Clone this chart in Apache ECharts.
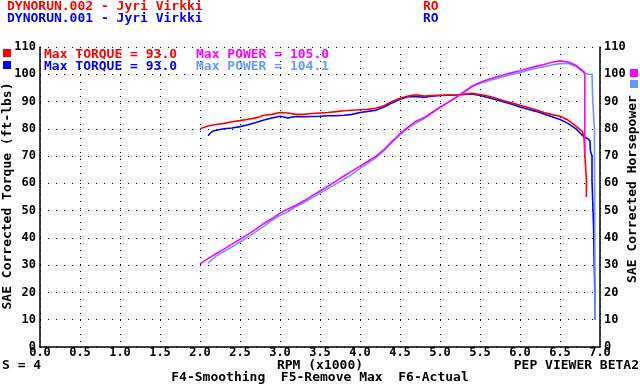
<!DOCTYPE html>
<html><head><meta charset="utf-8">
<script src="https://cdn.jsdelivr.net/npm/echarts@6/dist/echarts.min.js"></script>
<style>html,body{margin:0;padding:0;background:#fff}#c{width:640px;height:387px}</style>
</head><body><div id="c"></div>
<script>
// Run 002 (red torque, magenta power)
const rpm002 = [2.0,2.1,2.2,2.3,2.4,2.5,2.6,2.7,2.8,2.9,3.0,3.1,3.2,3.3,3.4,3.5,3.6,3.7,3.8,3.9,4.0,4.1,4.2,4.3,4.4,4.5,4.6,4.7,4.8,4.9,5.0,5.1,5.2,5.3,5.4,5.5,5.6,5.7,5.8,5.9,6.0,6.1,6.2,6.3,6.4,6.5,6.6,6.7,6.78,6.8,6.81,6.81,6.83,6.83];
const torque002 = [80.0,81.0,81.6,82.0,82.6,83.0,83.5,84.0,85.0,85.3,86.0,85.8,85.3,85.3,85.6,85.8,86.0,86.3,86.6,86.8,87.0,87.2,87.5,88.5,90.0,91.2,92.0,92.5,92.0,92.2,92.3,92.4,92.4,92.7,93.0,92.6,92.0,91.2,90.3,89.5,88.6,87.8,87.0,86.0,85.2,84.6,83.2,81.0,79.0,77.0,77.0,71.0,61.0,55.0];
const rpm002p = [2.0,2.1,2.2,2.3,2.4,2.5,2.6,2.7,2.8,2.9,3.0,3.1,3.2,3.3,3.4,3.5,3.6,3.7,3.8,3.9,4.0,4.1,4.2,4.3,4.4,4.5,4.6,4.7,4.8,4.9,5.0,5.1,5.2,5.3,5.4,5.5,5.6,5.7,5.8,5.9,6.0,6.1,6.2,6.3,6.4,6.5,6.6,6.7,6.8,6.81,6.81];
const power002 = [30.5,32.4,34.2,35.9,37.7,39.5,41.3,43.2,45.3,47.1,49.1,50.6,52.0,53.6,55.4,57.2,59.0,60.8,62.7,64.5,66.3,68.1,70.0,72.4,75.4,78.2,80.6,82.8,84.1,86.0,87.9,89.7,91.5,93.5,95.6,97.0,98.1,99.0,99.8,100.6,101.3,102.1,102.9,103.6,104.4,104.9,104.5,103.3,101.0,99.5,71.0];
// Run 001 (blue torque, light blue power)
const rpm001 = [2.1,2.15,2.2,2.3,2.4,2.5,2.6,2.7,2.8,2.9,3.0,3.1,3.2,3.3,3.4,3.5,3.6,3.7,3.8,3.9,4.0,4.1,4.2,4.3,4.4,4.5,4.6,4.7,4.8,4.9,5.0,5.1,5.2,5.3,5.4,5.5,5.6,5.7,5.8,5.9,6.0,6.1,6.2,6.3,6.4,6.5,6.6,6.7,6.8,6.85,6.875,6.88,6.9,6.9,6.92,6.92,6.925,6.94,6.94];
const torque001 = [77.5,79.0,79.5,80.0,80.3,80.8,81.5,82.3,83.2,84.0,84.6,84.0,84.5,84.4,84.5,84.6,84.8,84.8,85.0,85.3,86.0,86.4,86.8,88.0,89.5,90.8,91.8,91.8,91.6,92.0,92.2,92.3,92.4,92.6,92.8,92.2,91.5,90.7,89.8,89.0,88.0,87.2,86.4,85.4,84.4,83.4,82.0,80.0,77.0,76.4,75.5,72.0,70.0,61.0,61.0,44.0,34.0,14.0,10.0];
const rpm001p = [2.1,2.2,2.3,2.4,2.5,2.6,2.7,2.8,2.9,3.0,3.1,3.2,3.3,3.4,3.5,3.6,3.7,3.8,3.9,4.0,4.1,4.2,4.3,4.4,4.5,4.6,4.7,4.8,4.9,5.0,5.1,5.2,5.3,5.4,5.5,5.6,5.7,5.8,5.9,6.0,6.1,6.2,6.3,6.4,6.5,6.6,6.7,6.8,6.85,6.9,6.91,6.93,6.94];
const power001 = [30.7,33.3,35.0,36.7,38.5,40.4,42.3,44.3,46.4,48.3,49.6,51.5,53.0,54.7,56.4,58.1,59.8,61.5,63.3,65.5,67.4,69.4,72.0,75.0,77.8,80.4,82.1,83.7,85.8,87.8,89.6,91.5,93.5,95.4,96.6,97.5,98.4,99.2,100.0,100.6,101.5,102.2,102.8,103.4,103.9,104.0,102.8,100.6,100.0,100.0,90.0,80.0,10.0];

const xTicks = ['0.0','0.5','1.0','1.5','2.0','2.5','3.0','3.5','4.0','4.5','5.0','5.5','6.0','6.5','7.0'];
const yTicks = ['0','10','20','30','40','50','60','70','80','90','100','110'];

const FONT = '"DejaVu Sans Mono", monospace';
const pair = (xs, ys) => xs.map((x, i) => [x, ys[i]]);

const chart = echarts.init(document.getElementById('c'), null, {renderer: 'canvas'});
function txt(x, y, s, color, align, extra) {
  return Object.assign({type: 'text', x: x, y: y, silent: true,
    style: {text: s, fill: color, font: 'bold 13px ' + FONT, textAlign: align || 'left', textVerticalAlign: 'middle'}}, extra || {});
}
const graphics = [
  txt(7, 7, 'DYNORUN.002 - Jyri Virkki', '#ff0000'),
  txt(7, 19, 'DYNORUN.001 - Jyri Virkki', '#0000ff'),
  txt(423, 7, 'RO', '#ff0000'),
  txt(423, 19, 'RO', '#0000ff'),
  txt(44, 55, 'Max TORQUE = 93.0', '#ff0000'),
  txt(196, 55, 'Max POWER = 105.0', '#ff00ff'),
  txt(44, 67, 'Max TORQUE = 93.0', '#0000ff'),
  txt(196, 67, 'Max POWER = 104.1', '#6699ff'),
  txt(2, 366, 'S = 4', '#000000'),
  txt(320, 366, 'RPM (x1000)', '#000000', 'center'),
  txt(639, 366, 'PEP VIEWER BETA2', '#000000', 'right'),
  txt(320, 378, 'F4-Smoothing  F5-Remove Max  F6-Actual', '#000000', 'center'),
  txt(8, 196, 'SAE Corrected Torque (ft-lbs)', '#000000', 'center', {rotation: Math.PI/2}),
  txt(633, 189, 'SAE Corrected Horsepower', '#000000', 'center', {rotation: Math.PI/2}),
  {type: 'rect', shape: {x: 3, y: 49, width: 8, height: 8}, style: {fill: '#ff0000'}},
  {type: 'rect', shape: {x: 3, y: 61, width: 8, height: 8}, style: {fill: '#0000ff'}},
  {type: 'rect', shape: {x: 630, y: 69, width: 8, height: 8}, style: {fill: '#ff00ff'}},
  {type: 'rect', shape: {x: 630, y: 80, width: 8, height: 8}, style: {fill: '#6699ff'}}
];

const axisLabelStyle = {color: '#000', fontFamily: FONT, fontWeight: 'bold', fontSize: 12};
chart.setOption({
  animation: false,
  backgroundColor: '#ffffff',
  grid: {left: 40, right: 40, top: 47, bottom: 40, containLabel: false},
  xAxis: {
    type: 'value', min: 0, max: 7, interval: 0.5,
    axisLine: {show: true, onZero: false, lineStyle: {color: '#000', width: 1.5}},
    axisTick: {show: false},
    axisLabel: Object.assign({margin: 0, formatter: v => xTicks[Math.round(v / 0.5)]}, axisLabelStyle),
    splitLine: {show: true, lineStyle: {color: '#000', width: 1, type: [1, 6]}}
  },
  yAxis: [
    {type: 'value', min: 0, max: 110, interval: 10, position: 'left',
     axisLine: {show: true, lineStyle: {color: '#000', width: 1.5}},
     axisTick: {show: false},
     axisLabel: Object.assign({margin: 4, formatter: v => yTicks[Math.round(v / 10)]}, axisLabelStyle),
     splitLine: {show: true, lineStyle: {color: '#000', width: 1, type: [1, 7]}}},
    {type: 'value', min: 0, max: 110, interval: 10, position: 'right',
     axisLine: {show: true, lineStyle: {color: '#000', width: 1.5}},
     axisTick: {show: false},
     axisLabel: Object.assign({margin: 4, formatter: v => yTicks[Math.round(v / 10)]}, axisLabelStyle),
     splitLine: {show: false}}
  ],
  graphic: graphics,
  series: [
    {type: 'line', data: pair(rpm001, torque001), showSymbol: false, lineStyle: {color: '#0000ff', width: 1.6}, itemStyle: {color: '#0000ff'}},
    {type: 'line', data: pair(rpm001p, power001), showSymbol: false, lineStyle: {color: '#6699ff', width: 1.6}, itemStyle: {color: '#6699ff'}},
    {type: 'line', data: pair(rpm002, torque002), showSymbol: false, lineStyle: {color: '#ff0000', width: 1.6}, itemStyle: {color: '#ff0000'}},
    {type: 'line', data: pair(rpm002p, power002), showSymbol: false, lineStyle: {color: '#ff00ff', width: 1.6}, itemStyle: {color: '#ff00ff'}}
  ]
});
</script></body></html>
